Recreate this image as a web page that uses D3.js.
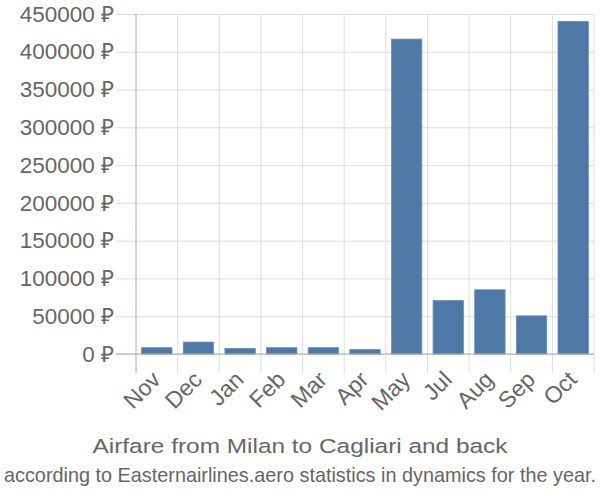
<!DOCTYPE html>
<html>
<head>
<meta charset="utf-8">
<script src="https://cdn.jsdelivr.net/npm/d3@7"></script>
<style>
  html, body { margin: 0; padding: 0; background: #fff; }
  svg { display: block; font-family: "Liberation Sans", Arial, sans-serif; }
</style>
</head>
<body>
<svg id="chart" width="600" height="500"></svg>
<script>
const months = ["Nov", "Dec", "Jan", "Feb", "Mar", "Apr", "May", "Jul", "Aug", "Sep", "Oct"];
const prices = [8400, 15800, 7300, 8400, 8400, 6000, 416800, 70800, 85000, 50500, 440300];
const yTicks = [0, 50000, 100000, 150000, 200000, 250000, 300000, 350000, 400000, 450000];
const title = "Airfare from Milan to Cagliari and back";
const subtitle = "according to Easternairlines.aero statistics in dynamics for the year.";

const svg = d3.select("#chart");
const pLeft = 136, pRight = 594, pTop = 14, pBottom = 354;

const x = d3.scaleBand().domain(months).range([pLeft, pRight]).paddingInner(0.27).paddingOuter(0.135);
const xb = d3.scaleBand().domain(months).range([pLeft, pRight]);
const y = d3.scaleLinear().domain([0, 450000]).range([pBottom, pTop]);

// horizontal grid
const gy = svg.append("g").attr("transform", `translate(${pLeft},0)`)
  .call(d3.axisLeft(y).tickValues(yTicks).tickSize(20).tickPadding(2)
    .tickFormat(d => d + " \u20BD"));
gy.select(".domain").remove();
gy.selectAll(".tick line").attr("stroke", "#ddd").attr("x2", pRight - pLeft).attr("x1", -20);
gy.selectAll(".tick text").attr("fill", "#666").attr("font-size", 22.5)
  .attr("font-family", "Liberation Sans, Arial, sans-serif");

// vertical grid at band boundaries
const bounds = months.map(m => xb(m)).concat([pRight]);
svg.append("g").selectAll("line").data(bounds).join("line")
  .attr("x1", d => d).attr("x2", d => d)
  .attr("y1", pTop).attr("y2", pBottom + 19)
  .attr("stroke", (d, i) => i === 0 ? "#aaa" : "#ddd").attr("stroke-width", 1);

// bars
svg.append("g").selectAll("rect").data(prices).join("rect")
  .attr("x", (d, i) => x(months[i]))
  .attr("width", x.bandwidth())
  .attr("y", d => y(d))
  .attr("height", d => y(0) - y(d))
  .attr("fill", "#4e79a7")
  .attr("stroke", "#6a8fba").attr("stroke-width", 0.8);

// baseline
svg.append("line").attr("x1", pLeft - 20).attr("x2", pRight)
  .attr("y1", y(0)).attr("y2", y(0)).attr("stroke", "#aaa");

// x labels
const gx = svg.append("g").attr("transform", `translate(0,${pBottom})`)
  .call(d3.axisBottom(xb).tickSize(0).tickPadding(0));
gx.select(".domain").remove();
gx.selectAll(".tick text")
  .attr("fill", "#666").attr("font-size", 23)
  .attr("font-family", "Liberation Sans, Arial, sans-serif")
  .attr("text-anchor", "end")
  .attr("dy", 0)
  .attr("transform", "translate(5,27) rotate(-45)");

// titles
svg.append("text").attr("x", 300).attr("y", 453).attr("text-anchor", "middle")
  .attr("fill", "#666").attr("font-size", 20.5)
  .attr("textLength", 415).attr("lengthAdjust", "spacingAndGlyphs").text(title);
svg.append("text").attr("x", 300).attr("y", 482).attr("text-anchor", "middle")
  .attr("fill", "#666").attr("font-size", 21)
  .attr("textLength", 592).attr("lengthAdjust", "spacingAndGlyphs").text(subtitle);
</script>
</body>
</html>
